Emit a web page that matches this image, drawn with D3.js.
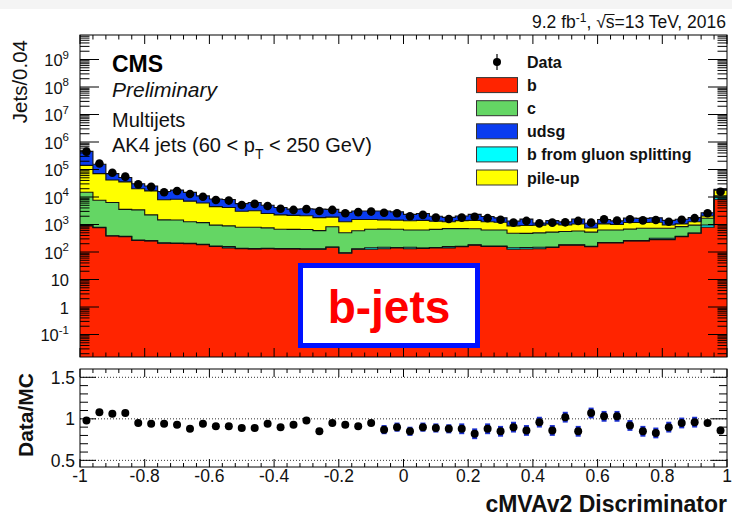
<!DOCTYPE html>
<html>
<head>
<meta charset="utf-8">
<script src="https://cdn.jsdelivr.net/npm/d3@7"></script>
<style>
  body { margin: 0; background: #fff; }
  svg { display: block; }
  text { font-family: "Liberation Sans", Arial, Helvetica, sans-serif; fill: #111; }
</style>
</head>
<body>
<svg id="chart" width="732" height="525"></svg>
<script>
// 50 bins of width 0.04 from -1 to 1
const binWidth = 0.04;
const nBins = 50;

// MC components, jets per bin
const bJets = [890,760,380,363,263,251,209,204,200,186, 158,141,132,129,132,129,129,126,126,148,
               91,126,126,132,141,132,135,141,141,155, 178,158,158,126,129,132,145,178,178,155,
               214,214,251,251,282,282,363,479,794,8320];
const gSplit = [30,25,12,11,8,8,6,6,6,6, 5,18,4,4,4,4,4,4,4,4,
                3,4,16,16,5,16,5,5,18,5, 6,5,5,16,16,16,5,6,6,5,
                7,7,8,8,35,35,11,14,160,1450];
const cJets = [13900,6800,5920,3170,3120,1980,1260,1240,1050,980, 790,730,660,660,620,540,530,530,470,680,
               410,460,530,530,530,480,490,520,550,550, 520,470,470,340,330,350,380,370,400,370,
               410,410,420,470,410,410,460,460,740,1190];
const pileUp = [126000,63200,35400,31900,16600,14400,6460,6870,5820,4850, 3510,3280,2230,2370,1750,1560,1480,1430,1180,1030,
                760,930,840,800,770,750,780,660,550,670, 710,630,570,410,450,450,520,410,460,220,
                420,370,500,450,480,230,220,300,340,6820];
const udsgJets = [316000,84100,29100,15800,10200,8520,7910,9470,7710,4940, 4040,3960,2730,3150,2500,1930,1490,1630,1850,1690,
                  1500,1580,1580,1610,1440,960,1100,680,560,660, 930,690,540,430,650,190,330,280,540,360,
                  470,350,520,490,540,460,500,520,650,1270];
const dataCounts = [447000,166000,75900,55000,28800,23400,14800,16600,12900,10200, 7760,7410,5130,5620,4680,3720,3390,3630,3090,3390,
                    2570,2820,2950,2690,2570,2000,2240,1780,1580,1780, 1910,1700,1480,1170,1350,1100,1170,1200,1350,1170,
                    1550,1380,1550,1410,1450,1260,1480,1700,2570,15500];

// ratio panel
const ratioVals = [0.98,1.08,1.06,1.07,0.95,0.94,0.94,0.93,0.88,0.94, 0.91,0.91,0.89,0.89,0.94,0.90,0.93,0.98,0.85,0.95,
                   0.93,0.91,0.95,0.87,0.90,0.85,0.90,0.89,0.88,0.88, 0.82,0.88,0.85,0.90,0.86,0.96,0.86,1.02,0.85,1.07,
                   1.03,1.03,0.92,0.85,0.83,0.90,0.95,0.96,0.95,0.86];
const ratioUnc = [0.02,0.02,0.02,0.02,0.02,0.02,0.02,0.02,0.02,0.02, 0.02,0.02,0.02,0.02,0.02,0.02,0.02,0.02,0.02,0.02,
                  0.02,0.02,0.02,0.055,0.055,0.055,0.055,0.055,0.055,0.065, 0.065,0.065,0.065,0.065,0.065,0.065,0.065,0.065,0.065,0.065,
                  0.065,0.065,0.065,0.065,0.065,0.065,0.065,0.065,0.03,0.03];

const xTickValues = [-1,-0.8,-0.6,-0.4,-0.2,0,0.2,0.4,0.6,0.8,1];
const logTickExps = [-1,0,1,2,3,4,5,6,7,8,9];
const ratioTickValues = [0.5,1,1.5];

const legendEntries = [
  {key: "b", label: "b"},
  {key: "c", label: "c"},
  {key: "udsg", label: "udsg"},
  {key: "gsplit", label: "b from gluon splitting"},
  {key: "pileup", label: "pile-up"}
];
const colors = {b: "#ff2400", gsplit: "#00ffff", c: "#64d664", pileup: "#ffff00", udsg: "#0a3cf0"};
const stackKeys = ["b", "gsplit", "c", "pileup", "udsg"];

const svg = d3.select("#chart");
const pTop = {l: 80, r: 727, t: 35, b: 357};
const pRat = {l: 80, r: 727, t: 369, b: 467};

svg.append("rect").attr("x", 0).attr("y", 0).attr("width", 732).attr("height", 9).attr("fill", "#f4f4f4");

const x = d3.scaleLinear().domain([-1, 1]).range([pTop.l, pTop.r]);
const yMin = Math.pow(10, -1.818);
const y = d3.scaleLog().domain([yMin, Math.pow(10, 9.891)]).range([pTop.b, pTop.t]);
const yr = d3.scaleLinear().domain([0.42, 1.6]).range([pRat.b, pRat.t]);
const yv = v => v <= yMin ? pTop.b : y(v);

svg.append("clipPath").attr("id", "clipTop")
  .append("rect").attr("x", pTop.l).attr("y", pTop.t).attr("width", pTop.r - pTop.l).attr("height", pTop.b - pTop.t);

// ---- stacked histogram ----
const rows = bJets.map((v, i) => ({b: v, gsplit: gSplit[i], c: cJets[i], pileup: pileUp[i], udsg: udsgJets[i]}));
const stacked = d3.stack().keys(stackKeys)(rows);
const lowEdge = i => -1 + i * binWidth;

const gHist = svg.append("g").attr("clip-path", "url(#clipTop)");
const area = d3.area().curve(d3.curveStepAfter)
  .x(d => x(d.e)).y0(d => yv(d.lo)).y1(d => yv(d.hi));
const outline = d3.line().curve(d3.curveStepAfter)
  .x(d => x(d.e)).y(d => yv(d.hi));

const layerPts = stacked.map(s => {
  const pts = s.map((d, i) => ({e: lowEdge(i), lo: d[0], hi: d[1]}));
  const last = pts[pts.length - 1];
  pts.push({e: 1, lo: last.lo, hi: last.hi});
  return {key: s.key, pts};
});
layerPts.forEach(l => {
  gHist.append("path").attr("d", area(l.pts)).attr("fill", colors[l.key]).attr("stroke", "none");
});
layerPts.forEach(l => {
  gHist.append("path").attr("d", outline(l.pts)).attr("fill", "none")
    .attr("stroke", "#111").attr("stroke-width", 1.1);
});

// data points
gHist.selectAll("circle.data").data(dataCounts).enter().append("circle")
  .attr("cx", (d, i) => x(lowEdge(i) + binWidth / 2))
  .attr("cy", d => y(d))
  .attr("r", 4.3).attr("fill", "#000");

// ---- frames & ticks ----
function frame(p) {
  svg.append("rect").attr("x", p.l).attr("y", p.t).attr("width", p.r - p.l).attr("height", p.b - p.t)
    .attr("fill", "none").attr("stroke", "#000").attr("stroke-width", 1);
}
function tick(x1, y1, x2, y2) {
  svg.append("line").attr("x1", x1).attr("y1", y1).attr("x2", x2).attr("y2", y2)
    .attr("stroke", "#000").attr("stroke-width", 1);
}
const xMinor = d3.range(nBins + 1).map(lowEdge);

function xTicks(p, majLen, minLen) {
  xMinor.forEach(v => {
    const isMaj = xTickValues.some(t => Math.abs(t - v) < 1e-6);
    const len = isMaj ? majLen : minLen;
    tick(x(v), p.b, x(v), p.b - len);
    tick(x(v), p.t, x(v), p.t + len);
  });
}

// top panel y log ticks
y.ticks(20).forEach(v => {
  const lg = Math.log10(v);
  const isMaj = Math.abs(lg - Math.round(lg)) < 1e-6;
  const len = isMaj ? 19 : 9.5;
  const yy = y(v);
  if (yy < pTop.t || yy > pTop.b) return;
  tick(pTop.l, yy, pTop.l + len, yy);
  tick(pTop.r, yy, pTop.r - len, yy);
});
xTicks(pTop, 9, 4.5);

// ratio panel
svg.append("g").selectAll("line").data(ratioTickValues).enter().append("line")
  .attr("x1", pRat.l).attr("x2", pRat.r).attr("y1", d => yr(d)).attr("y2", d => yr(d))
  .attr("stroke", "#333").attr("stroke-width", 1).attr("stroke-dasharray", "1,2");
d3.range(5, 16).map(k => k / 10).forEach(v => {
  const isMaj = ratioTickValues.some(t => Math.abs(t - v) < 1e-6);
  const len = isMaj ? 16 : 8;
  tick(pRat.l, yr(v), pRat.l + len, yr(v));
  tick(pRat.r, yr(v), pRat.r - len, yr(v));
});
xTicks(pRat, 8, 4);

// ratio points
const gRat = svg.append("g");
ratioVals.forEach((r, i) => {
  const cx = x(lowEdge(i) + binWidth / 2);
  gRat.append("rect").attr("x", cx - 2.5).attr("y", yr(r + ratioUnc[i]))
    .attr("width", 5).attr("height", yr(r - ratioUnc[i]) - yr(r + ratioUnc[i]))
    .attr("fill", "#1a2fd0");
  gRat.append("line").attr("x1", cx).attr("x2", cx).attr("y1", yr(r + 0.02)).attr("y2", yr(r - 0.02))
    .attr("stroke", "#000").attr("stroke-width", 1);
  gRat.append("circle").attr("cx", cx).attr("cy", yr(r)).attr("r", 4).attr("fill", "#000");
});

frame(pTop);
frame(pRat);

// ---- axis labels ----
// log labels
logTickExps.forEach(k => {
  const t = svg.append("text").attr("x", 69).attr("y", y(Math.pow(10, k)) + 6.5)
    .attr("text-anchor", "end").attr("font-size", 16.5);
  if (k === 0) t.text("1");
  else if (k === 1) t.text("10");
  else {
    t.append("tspan").text("10");
    t.append("tspan").attr("font-size", 11.5).attr("dy", -7.5).text(String(k));
  }
});
svg.append("text").attr("transform", "translate(27,40) rotate(-90)")
  .attr("text-anchor", "end").attr("font-size", 20.5).text("Jets/0.04");

// ratio labels
ratioTickValues.forEach(v => {
  svg.append("text").attr("x", 75).attr("y", yr(v) + 6.5).attr("text-anchor", "end")
    .attr("font-size", 17.5).text(String(v));
});
svg.append("text").attr("transform", "translate(33,415) rotate(-90)")
  .attr("text-anchor", "middle").attr("font-size", 21).attr("font-weight", "bold").text("Data/MC");

xTickValues.forEach(v => {
  svg.append("text").attr("x", x(v)).attr("y", 482).attr("text-anchor", "middle")
    .attr("font-size", 17.5).text(String(+v.toFixed(1)));
});
svg.append("text").attr("x", 727).attr("y", 512).attr("text-anchor", "end")
  .attr("font-size", 23).attr("font-weight", "bold").text("cMVAv2 Discriminator");

// ---- header texts ----
const lumiY = 28;
const lumi = svg.append("text").attr("x", 726).attr("y", lumiY).attr("text-anchor", "end").attr("font-size", 17.5);
lumi.append("tspan").text("9.2 fb");
lumi.append("tspan").attr("font-size", 12).attr("dy", -6.5).text("-1");
lumi.append("tspan").attr("dy", 6.5).text(", \u221A");
lumi.append("tspan").text("s=13 TeV, 2016");
// overline over "s"
const lumiNode = lumi.node();
const full = lumiNode.textContent;
const sIdx = full.indexOf("s=");
if (sIdx >= 0) {
  const ext = lumiNode.getExtentOfChar(sIdx);
  svg.append("line").attr("x1", ext.x - 1).attr("x2", ext.x + ext.width)
    .attr("y1", lumiY - 13.5).attr("y2", lumiY - 13.5).attr("stroke", "#111").attr("stroke-width", 1);
}

svg.append("text").attr("x", 112).attr("y", 72).attr("font-size", 23).attr("font-weight", "bold")
  .style("fill", "#000").text("CMS");
svg.append("text").attr("x", 112).attr("y", 97).attr("font-size", 21).attr("font-style", "italic").text("Preliminary");
svg.append("text").attr("x", 112).attr("y", 127).attr("font-size", 20).text("Multijets");
const ak = svg.append("text").attr("x", 112).attr("y", 152).attr("font-size", 20);
ak.append("tspan").text("AK4 jets (60 < p");
ak.append("tspan").attr("font-size", 14).attr("dy", 7).text("T");
ak.append("tspan").attr("dy", -7).text(" < 250 GeV)");

// ---- legend ----
const lg = svg.append("g").attr("transform", "translate(476,62)");
lg.append("line").attr("x1", 21).attr("x2", 21).attr("y1", -8).attr("y2", 8).attr("stroke", "#000").attr("stroke-width", 1.2);
lg.append("circle").attr("cx", 21).attr("cy", 0).attr("r", 4).attr("fill", "#000");
lg.append("text").attr("x", 51).attr("y", 6).attr("font-size", 16).attr("font-weight", "bold").text("Data");
legendEntries.forEach((e, i) => {
  const yy = 23.1 * (i + 1);
  lg.append("rect").attr("x", 0.5).attr("y", yy - 7.5).attr("width", 41).attr("height", 15)
    .attr("fill", colors[e.key]).attr("stroke", "#333").attr("stroke-width", 1);
  lg.append("text").attr("x", 51).attr("y", yy + 6).attr("font-size", 16).attr("font-weight", "bold").text(e.label);
});

// ---- b-jets label ----
svg.append("rect").attr("x", 300.5).attr("y", 265.5).attr("width", 177).attr("height", 80)
  .attr("fill", "#fff").attr("stroke", "#0011ff").attr("stroke-width", 5);
svg.append("text").attr("x", 389).attr("y", 323).attr("text-anchor", "middle")
  .attr("font-size", 46).attr("font-weight", "bold").style("fill", "#ff0000").text("b-jets");
</script>
</body>
</html>
